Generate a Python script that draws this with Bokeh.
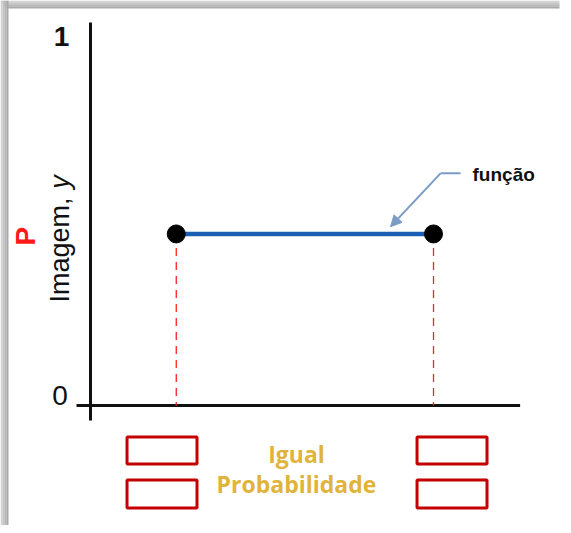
import math
from bokeh.plotting import figure
from bokeh.models import Arrow, NormalHead
from bokeh.core.properties import value
from bokeh.embed import file_html
from bokeh.resources import INLINE

# ---- data ----
x_points = [1, 4]            # a, b
p_values = [0.47, 0.47]      # constant density value
y_ticks = [0, 1]
y_tick_labels = ["0", "1"]
y_tick_bold = ["normal", "bold"]
axis_label = "Imagem, "
axis_label_var = "y"
p_label = "P"
func_label = "função"
eq_label = ["Igual", "Probabilidade"]

# ---- layout (data coords) ----
W, H = 563, 525
X0, X1 = -1.0496, 5.516
Y0, Y1 = -0.3288, 1.1096
x_axis_extent = (-0.163, 5.01)
y_axis_extent = (-0.041, 1.049)

p = figure(width=W, height=H, x_range=(X0, X1), y_range=(Y0, Y1),
           output_backend="svg", toolbar_location=None, min_border=0)
p.axis.visible = False
p.grid.visible = False
p.outline_line_color = None
p.background_fill_color = "white"
p.border_fill_color = "white"

# soft gray shadow along the top and left edges
px_x = (X1 - X0) / W
px_y = (Y1 - Y0) / H
shade = ["#d2d2d2", "#c2c2c2", "#b4b4b4", "#a9a9a9"]
for i, c in enumerate(shade):
    p.quad(left=[X0 + 2 * i * px_x], right=[X0 + 2 * (i + 1) * px_x],
           bottom=[Y0], top=[Y1], fill_color=c, line_color=None)
    p.quad(left=[X0 + 2 * i * px_x], right=[X1 - 4 * px_x],
           bottom=[Y1 - 2 * (i + 1) * px_y], top=[Y1 - 2 * i * px_y],
           fill_color=c, line_color=None)

# axes drawn as crossing lines
p.segment(x0=[x_axis_extent[0], 0], y0=[0, y_axis_extent[0]],
          x1=[x_axis_extent[1], 0], y1=[0, y_axis_extent[1]],
          line_color="#111111", line_width=3)

# tick labels
for t, lab, w, dx, by in zip(y_ticks, y_tick_labels, y_tick_bold, [-0.356, -0.338], [0.028, 1.011]):
    p.text(x=[dx], y=[by], text=[lab],
           text_font=value("Liberation Sans"), text_font_size="28px",
           text_font_style=w, text_align="center", text_baseline="alphabetic",
           text_color="#111111")

# dashed verticals
p.segment(x0=x_points, y0=p_values, x1=x_points, y1=[0, 0],
          line_color="#ff2020", line_width=1.3, line_dash="8 6")

# function line
p.line(x=x_points, y=p_values, line_color="#1a5fb4", line_width=4.5)
p.scatter(x=x_points, y=p_values, size=18, color="black")

# y-axis labels (rotated)
p.text(x=[-0.36], y=[0.282], text=[axis_label], angle=math.pi / 2,
       text_font=value("Liberation Sans"), text_font_size="27px",
       text_align="left", text_baseline="alphabetic", text_color="#111111")
p.text(x=[-0.36], y=[0.594], text=[axis_label_var], angle=math.pi / 2,
       text_font=value("Liberation Sans"), text_font_size="27px", text_font_style="italic",
       text_align="left", text_baseline="alphabetic", text_color="#111111")
p.text(x=[-0.755], y=[0.464], text=[p_label], angle=math.pi / 2,
       text_font=value("Liberation Sans"), text_font_size="28px", text_font_style="bold",
       text_align="center", text_baseline="alphabetic", text_color="#ff1a1a")

# "função" annotation with arrow
p.text(x=[4.455], y=[0.633], text=[func_label],
       text_font=value("Liberation Sans"), text_font_size="19px", text_font_style="bold",
       text_align="left", text_baseline="alphabetic", text_color="#111111")
p.segment(x0=[4.315], y0=[0.636], x1=[4.082], y1=[0.636], line_color="#7a9cc4", line_width=2)
p.add_layout(Arrow(end=NormalHead(size=11, fill_color="#7a9cc4", line_color="#7a9cc4"),
                   x_start=4.082, y_start=0.636, x_end=3.499, y_end=0.490,
                   line_color="#7a9cc4", line_width=2))

# red boxes
box_x = [0.834, 0.834, 4.216, 4.216]
box_y = [-0.123, -0.2425, -0.123, -0.2425]
p.rect(x=box_x, y=box_y, width=0.816, height=[0.074, 0.077, 0.074, 0.077],
       fill_color=None, line_color="#c40000", line_width=3)

# "Igual Probabilidade"
p.text(x=[2.402, 2.402], y=[-0.134, -0.216], text=eq_label,
       text_font=value("Open Sans"), text_font_size="23px", text_font_style="bold",
       text_align="center", text_baseline="alphabetic", text_color="#e0b43a")

open("out.html", "w").write(file_html(p, INLINE))
